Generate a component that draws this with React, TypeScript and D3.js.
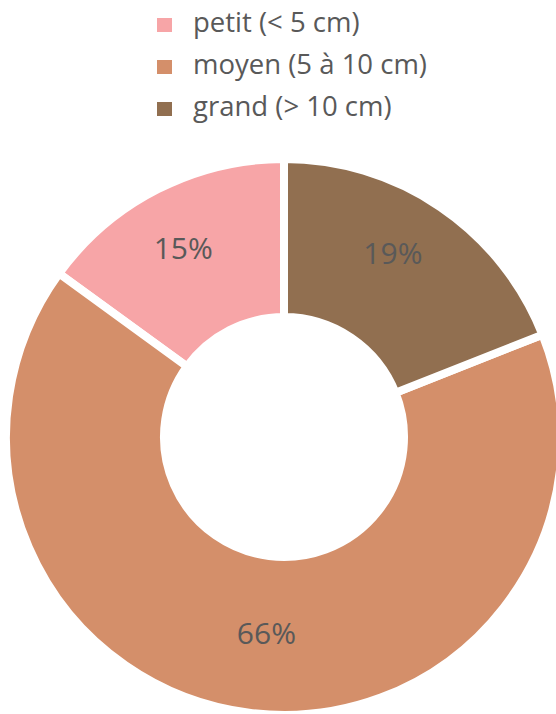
import { useEffect, useRef } from "react";
import * as d3 from "d3";

const categories = ["petit (< 5 cm)", "moyen (5 à 10 cm)", "grand (> 10 cm)"];
const values = [15, 66, 19];
const colors = ["#F7A5A7", "#D48F6A", "#916F50"];

export default function App() {
  const svgRef = useRef<SVGSVGElement | null>(null);

  useEffect(() => {
    if (!svgRef.current) return;
    const svg = d3.select(svgRef.current);
    svg.selectAll("*").remove();

    const width = 556;
    const height = 714;
    const cx = 284;
    const cy = 437;
    const outerR = 278;
    const innerR = 120;
    const font = "'Open Sans', 'Noto Sans', sans-serif";

    svg.attr("width", width).attr("height", height);

    const data = categories.map((c, i) => ({ name: c, value: values[i], color: colors[i] }));

    // counter-clockwise from the top so that the order matches the picture
    const pie = d3
      .pie<{ name: string; value: number; color: string }>()
      .sort(null)
      .value((d) => d.value)
      .startAngle(Math.PI * 2)
      .endAngle(0);

    const arcs = pie(data);
    const arc = d3.arc<d3.PieArcDatum<any>>().innerRadius(innerR).outerRadius(outerR);
    const total = d3.sum(values);

    const g = svg.append("g").attr("transform", `translate(${cx},${cy})`);

    g.selectAll("path")
      .data(arcs)
      .enter()
      .append("path")
      .attr("d", (d) => arc(d) as string)
      .attr("fill", (d) => d.data.color)
      .attr("stroke", "#fff")
      .attr("stroke-width", 8)
      .attr("stroke-linejoin", "miter");

    // labels sit a little before the middle of each slice, slightly raised
    const labelR = 206;
    g.selectAll("text.lbl")
      .data(arcs)
      .enter()
      .append("text")
      .attr("class", "lbl")
      .attr("transform", (d) => {
        const a = (d.startAngle + d.endAngle) / 2 - 0.04;
        return `translate(${labelR * Math.sin(a)},${-labelR * Math.cos(a) - 9})`;
      })
      .attr("text-anchor", "middle")
      .attr("dy", "0.36em")
      .attr("fill", "#595959")
      .style("font-family", font)
      .style("font-size", "30px")
      .text((d) => `${Math.round((d.data.value / total) * 100)}%`);

    // Legend
    const legend = svg
      .append("g")
      .selectAll("g")
      .data(data)
      .enter()
      .append("g")
      .attr("transform", (_, i) => `translate(157, ${25 + i * 42})`);

    legend
      .append("rect")
      .attr("x", 0)
      .attr("y", -7)
      .attr("width", 15)
      .attr("height", 14)
      .attr("fill", (d) => d.color);

    legend
      .append("text")
      .attr("x", 36)
      .attr("y", 7)
      .attr("fill", "#595959")
      .style("font-family", font)
      .style("font-size", "27.5px")
      .text((d) => d.name);
  }, []);

  return (
    <svg
      ref={svgRef}
      style={{ position: "absolute", left: 0, top: 0, display: "block" }}
    ></svg>
  );
}
